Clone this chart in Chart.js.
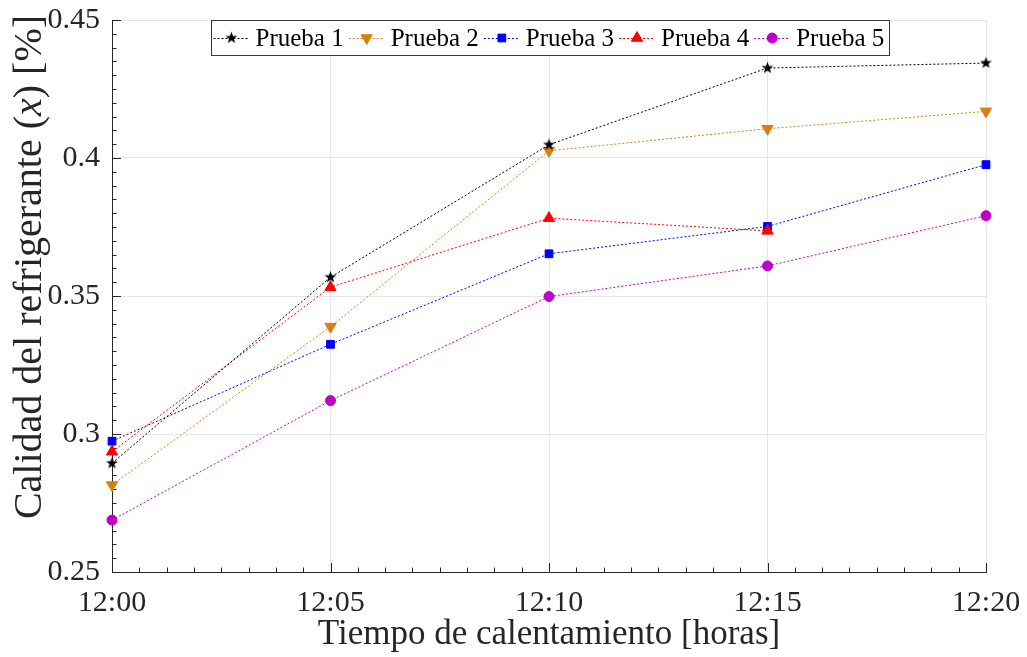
<!DOCTYPE html>
<html>
<head>
<meta charset="utf-8">
<script src="https://cdn.jsdelivr.net/npm/chart.js@4/dist/chart.umd.min.js"></script>
<style>
  html, body { margin: 0; padding: 0; background: #ffffff; }
  #wrap { width: 1027px; height: 657px; }
</style>
</head>
<body>
<div id="wrap"><canvas id="c" width="1027" height="657"></canvas></div>
<script>
// ---- data ----
const times = ['12:00', '12:05', '12:10', '12:15', '12:20'];
const prueba1 = [0.2894, 0.3568, 0.4048, 0.4326, 0.4344];
const prueba2 = [0.2815, 0.3389, 0.4026, 0.4106, 0.4169];
const prueba3 = [0.2974, 0.3325, 0.3653, 0.3752, 0.3976];
const prueba4 = [0.2936, 0.3532, 0.3782, 0.3736, null];
const prueba5 = [0.2688, 0.3121, 0.3498, 0.3609, 0.3791];
const seriesNames = ['Prueba 1', 'Prueba 2', 'Prueba 3', 'Prueba 4', 'Prueba 5'];
const yTicks = [0.25, 0.3, 0.35, 0.4, 0.45];
const xTitle = 'Tiempo de calentamiento [horas]';
const yTitleParts = ['Calidad del refrigerante (', 'x', ') [%]'];

// ---- styles ----
const SERIF = 'Liberation Serif';
const SERIF_CSS = "'Liberation Serif', serif";
const AXIS = '#262626';
Chart.defaults.font.family = SERIF;

function makeStar(color) {
  const c = document.createElement('canvas');
  c.width = 15; c.height = 15;
  const g = c.getContext('2d');
  g.fillStyle = color;
  g.beginPath();
  for (let i = 0; i < 10; i++) {
    const r = i % 2 === 0 ? 6.2 : 2.6;
    const a = -Math.PI / 2 + i * Math.PI / 5;
    const px = 7.5 + r * Math.cos(a), py = 7.5 + r * Math.sin(a);
    if (i === 0) g.moveTo(px, py); else g.lineTo(px, py);
  }
  g.closePath();
  g.fill();
  return c;
}

const styles = [
  { color: '#000000', point: makeStar('#000000'), radius: 6, rotation: 0, order: 0 },
  { color: '#D9800F', point: 'triangle', radius: 6.5, rotation: 180, order: 2 },
  { color: '#0000FF', point: 'rect', radius: 5.5, rotation: 0, order: 3 },
  { color: '#FF0000', point: 'triangle', radius: 6.5, rotation: 0, order: 1 },
  { color: '#C000C8', point: 'circle', radius: 5, rotation: 0, order: 4 }
];
const values = [prueba1, prueba2, prueba3, prueba4, prueba5];

const datasets = values.map((v, i) => ({
  label: seriesNames[i],
  data: v,
  borderColor: styles[i].color,
  backgroundColor: styles[i].color,
  borderWidth: 1,
  borderDash: [2, 2],
  pointStyle: styles[i].point,
  pointRadius: styles[i].radius,
  pointRotation: styles[i].rotation,
  pointBackgroundColor: styles[i].color,
  pointBorderColor: styles[i].color,
  pointBorderWidth: 1,
  spanGaps: false,
  order: styles[i].order,
  tension: 0
}));

// minor / major inward ticks
const tickPlugin = {
  id: 'inwardTicks',
  beforeDatasetsDraw(chart) {
    const ctx = chart.ctx, a = chart.chartArea;
    const xs = chart.scales.x, ys = chart.scales.y;
    ctx.save();
    ctx.strokeStyle = AXIS;
    ctx.lineWidth = 1;
    ctx.beginPath();
    for (let i = 0; i < times.length; i++) {
      const p0 = xs.getPixelForValue(i);
      const px = Math.round(p0) + 0.5;
      ctx.moveTo(px, a.bottom); ctx.lineTo(px, a.bottom - 9);
      if (i < times.length - 1) {
        const p1 = xs.getPixelForValue(i + 1);
        for (let k = 1; k < 8; k++) {
          const q = Math.round(p0 + (p1 - p0) * k / 8) + 0.5;
          ctx.moveTo(q, a.bottom); ctx.lineTo(q, a.bottom - 4.5);
        }
      }
    }
    for (let i = 0; i < yTicks.length; i++) {
      const p0 = ys.getPixelForValue(yTicks[i]);
      const py = Math.round(p0) + 0.5;
      ctx.moveTo(a.left, py); ctx.lineTo(a.left + 9, py);
      if (i < yTicks.length - 1) {
        const p1 = ys.getPixelForValue(yTicks[i + 1]);
        for (let k = 1; k < 10; k++) {
          const q = Math.round(p0 + (p1 - p0) * k / 10) + 0.5;
          ctx.moveTo(a.left, q); ctx.lineTo(a.left + 4.5, q);
        }
      }
    }
    ctx.stroke();
    ctx.restore();
  }
};

// axis titles + boxed legend
const decoPlugin = {
  id: 'deco',
  afterDraw(chart) {
    const ctx = chart.ctx, a = chart.chartArea;
    ctx.save();
    ctx.fillStyle = AXIS;
    ctx.font = '35px ' + SERIF_CSS;
    ctx.textAlign = 'center';
    ctx.textBaseline = 'middle';
    ctx.fillText(xTitle, (a.left + a.right) / 2, 635);
    const fN = '40px ' + SERIF_CSS, fI = 'italic 40px ' + SERIF_CSS;
    const fonts = [fN, fI, fN];
    let total = 0;
    const widths = yTitleParts.map((t, i) => { ctx.font = fonts[i]; const w = ctx.measureText(t).width; total += w; return w; });
    ctx.translate(30, 267);
    ctx.rotate(-Math.PI / 2);
    ctx.textAlign = 'left';
    let x = -total / 2;
    yTitleParts.forEach((t, i) => { ctx.font = fonts[i]; ctx.fillText(t, x, 0); x += widths[i]; });
    ctx.restore();

    ctx.save();
    ctx.font = '25px ' + SERIF_CSS;
    const left = 211.5, top = 20.5, h = 35;
    const lineLen = 36, gapText = 6, gapEntry = 5;
    let cx = left + 2;
    const entries = [];
    chart.data.datasets.forEach((ds) => {
      const w = ctx.measureText(ds.label).width;
      entries.push({ ds, x: cx, w });
      cx += lineLen + gapText + w + gapEntry;
    });
    const right = Math.round(cx) + 0.5;
    ctx.fillStyle = '#ffffff';
    ctx.fillRect(left, top, right - left, h);
    ctx.strokeStyle = '#3a3a3a';
    ctx.lineWidth = 1;
    ctx.strokeRect(left, top, right - left, h);
    const midY = top + h / 2;
    entries.forEach((e) => {
      const ds = e.ds;
      ctx.save();
      ctx.strokeStyle = ds.borderColor;
      ctx.lineWidth = 1;
      ctx.setLineDash([2, 2]);
      ctx.beginPath();
      ctx.moveTo(e.x, Math.round(midY) + 0.5);
      ctx.lineTo(e.x + lineLen, Math.round(midY) + 0.5);
      ctx.stroke();
      ctx.restore();
      ctx.save();
      ctx.fillStyle = ds.pointBackgroundColor;
      ctx.strokeStyle = ds.pointBorderColor;
      ctx.lineWidth = 1;
      Chart.helpers.drawPoint(ctx, {
        pointStyle: ds.pointStyle, radius: ds.pointRadius,
        rotation: ds.pointRotation, borderWidth: 1
      }, e.x + lineLen / 2, midY);
      ctx.restore();
      ctx.fillStyle = '#000000';
      ctx.textAlign = 'left';
      ctx.textBaseline = 'middle';
      ctx.fillText(ds.label, e.x + lineLen + gapText, midY + 1);
    });
    ctx.restore();
  }
};

new Chart(document.getElementById('c'), {
  type: 'line',
  data: { labels: times, datasets },
  options: {
    responsive: false,
    animation: false,
    layout: { padding: { left: 0, right: 41, top: 20, bottom: 0 } },
    plugins: { legend: { display: false }, tooltip: { enabled: false } },
    scales: {
      x: {
        type: 'category',
        offset: false,
        afterFit(s) { s.height = 85; s.paddingLeft = 0; s.paddingRight = 0; },
        grid: { color: '#e6e6e6', lineWidth: 1, drawTicks: false, offset: false },
        border: { display: true, color: AXIS, width: 1 },
        ticks: { color: AXIS, padding: 13, maxRotation: 0, autoSkip: false,
                 font: { family: SERIF, size: 30 } }
      },
      y: {
        type: 'linear',
        min: 0.25, max: 0.45,
        afterFit(s) { s.width = 112; s.paddingTop = 0; s.paddingBottom = 0; },
        afterBuildTicks(s) { s.ticks = yTicks.map(v => ({ value: v })); },
        grid: { color: '#e6e6e6', lineWidth: 1, drawTicks: false },
        border: { display: true, color: AXIS, width: 1 },
        ticks: { color: AXIS, padding: 12,
                 font: { family: SERIF, size: 30 },
                 callback: (v) => String(parseFloat(Number(v).toFixed(2))) }
      }
    }
  },
  plugins: [tickPlugin, decoPlugin]
});
</script>
</body>
</html>
